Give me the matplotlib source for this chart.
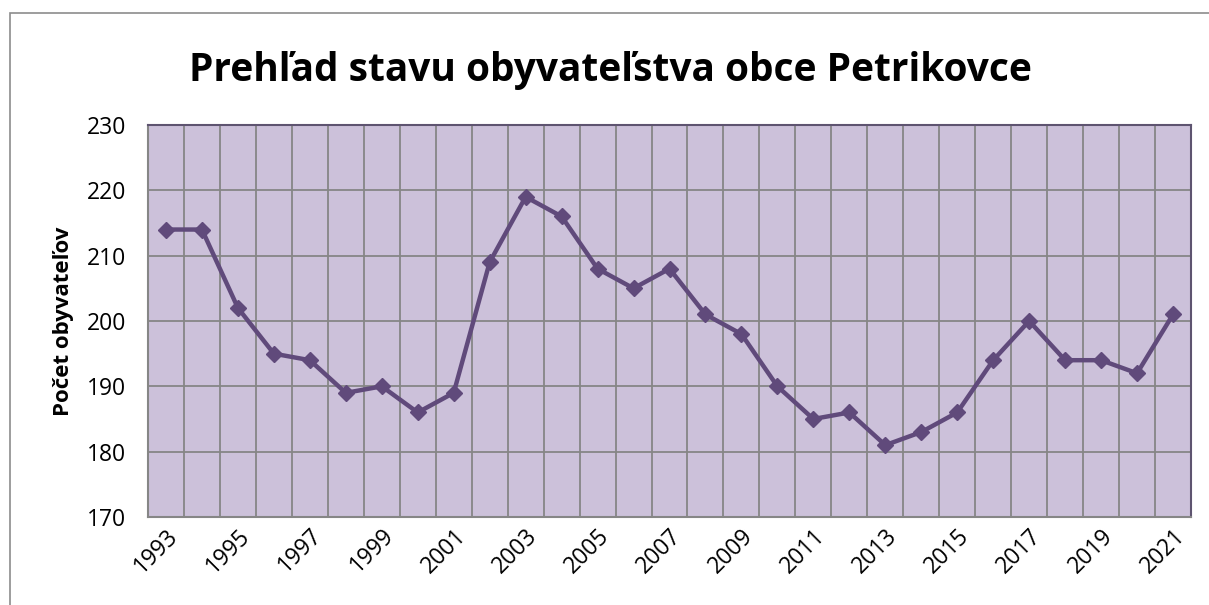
import numpy as np
import matplotlib.pyplot as plt
from matplotlib.patches import Rectangle

plt.rcParams['font.family'] = ['Open Sans', 'DejaVu Sans']

years = list(range(1993, 2022))
population = [214, 214, 202, 195, 194, 189, 190, 186, 189, 209, 219, 216, 208, 205, 208,
              201, 198, 190, 185, 186, 181, 183, 186, 194, 200, 194, 194, 192, 201]
title = 'Prehľad stavu obyvateľstva obce Petrikovce'
ylabel = 'Počet obyvateľov'

fig = plt.figure(figsize=(12.09, 6.05), dpi=100)
ax = fig.add_axes([148 / 1209, 1 - 517 / 605, (1191 - 148) / 1209, (517 - 125) / 605])

# outer chart frame
fig.patches.append(Rectangle((10 / 1209, -0.1), 1.2, 1 - 13 / 605 + 0.1, transform=fig.transFigure,
                             fill=False, edgecolor='#8c8c8c', linewidth=1.2))

x = np.arange(len(years))
ax.set_facecolor('#CCC1DA')
ax.plot(x, population, color='#604A7B', linewidth=3.2, marker='D', markersize=8.5,
        markerfacecolor='#604A7B', markeredgecolor='#604A7B', zorder=3)

ax.set_xlim(-0.5, len(years) - 0.5)
ax.set_ylim(170, 230)
ax.set_yticks(range(170, 231, 10))
ax.set_xticks(x[::2])
ax.set_xticklabels([str(y) for y in years[::2]], rotation=45, ha='right',
                   rotation_mode='anchor', fontsize=16.5)
ax.set_xticks(np.arange(-0.5, len(years), 1), minor=True)
ax.tick_params(axis='x', which='both', length=0, pad=5)
ax.tick_params(axis='y', length=0, pad=16, labelsize=16.5)

ax.grid(True, axis='y', which='major', color='#868686', linewidth=1.3)
ax.grid(True, axis='x', which='minor', color='#868686', linewidth=1.3)
ax.set_axisbelow(True)

for side in ['left', 'bottom']:
    ax.spines[side].set_color('#868686')
    ax.spines[side].set_linewidth(1.5)
for side in ['top', 'right']:
    ax.spines[side].set_color('#5E5470')
    ax.spines[side].set_linewidth(1.5)

ax.set_ylabel(ylabel, fontsize=16, fontweight='bold', labelpad=9)
fig.text(0.505, 1 - 70 / 605, title, ha='center', va='center', fontsize=28, fontweight='bold')

fig.savefig('out.png', dpi=100)
